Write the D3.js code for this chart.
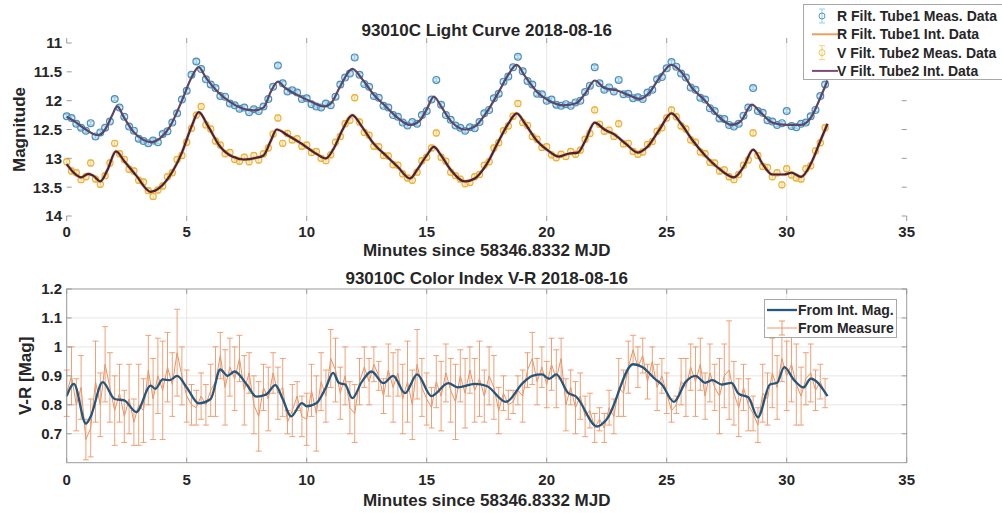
<!DOCTYPE html>
<html><head><meta charset="utf-8">
<script src="https://cdn.jsdelivr.net/npm/d3@7"></script>
<style>
body{margin:0;background:#fff}
text{font-family:"Liberation Sans",Arial,sans-serif;font-weight:bold;fill:#262626}
</style>
</head><body>
<svg id="c" width="1002" height="513"></svg>
<script>
// ---------- DATA ----------
const xTicks = [0,5,10,15,20,25,30,35];
const magTicks = [11,11.5,12,12.5,13,13.5,14];
const ciTicks = [0.7,0.8,0.9,1.0,1.1,1.2];

// Interpolated (smooth) light curves: key times and magnitudes
const rIntT = [0,0.4,0.8,1.3,1.6,1.9,2.1,2.4,2.8,3.2,3.5,3.9,4.3,4.8,5.2,5.5,5.8,6.3,6.8,7.3,7.8,8.2,8.5,8.8,9.1,9.6,10.2,10.7,11.0,11.4,11.9,12.3,12.8,13.3,13.8,14.3,14.7,15.0,15.3,15.6,16.0,16.6,17.0,17.5,18.0,18.4,18.75,19.1,19.6,20.1,20.7,21.2,21.6,22.0,22.4,22.9,23.4,23.9,24.3,24.7,25.2,25.6,26.1,26.6,27.1,27.7,28.1,28.55,28.9,29.4,30.0,30.6,31.0,31.4,31.7];
const rIntM = [12.28,12.38,12.5,12.6,12.5,12.25,12.1,12.3,12.55,12.68,12.72,12.65,12.45,12.0,11.6,11.42,11.6,11.85,12.02,12.13,12.17,12.12,11.85,11.67,11.78,11.9,12.02,12.1,12.05,11.75,11.45,11.62,11.9,12.1,12.3,12.42,12.35,12.15,11.93,12.1,12.35,12.5,12.45,12.2,11.85,11.55,11.38,11.58,11.85,12.0,12.08,12.05,11.88,11.65,11.78,11.82,11.9,11.97,11.85,11.6,11.38,11.5,11.8,12.0,12.25,12.42,12.35,12.07,12.2,12.38,12.42,12.42,12.3,11.95,11.65];

const vIntT = [0,0.3,0.6,0.9,1.1,1.4,1.7,2.05,2.4,2.9,3.5,3.9,4.3,4.8,5.2,5.5,5.9,6.4,6.9,7.4,7.9,8.2,8.5,8.75,9.2,9.8,10.4,10.8,11.1,11.5,11.9,12.3,12.8,13.3,13.8,14.3,14.6,15.0,15.3,15.6,16.0,16.6,17.0,17.5,18.0,18.4,18.75,19.1,19.6,20.1,20.5,20.9,21.3,21.6,22.0,22.4,22.8,23.3,23.8,24.2,24.7,25.2,25.6,26.1,26.6,27.1,27.8,28.2,28.6,29.0,29.4,29.9,30.2,30.6,31.0,31.4,31.7];
const vIntM = [13.1,13.25,13.33,13.27,13.3,13.4,13.2,12.88,13.05,13.3,13.58,13.5,13.3,12.9,12.45,12.2,12.45,12.8,12.97,13.02,12.99,12.95,12.7,12.5,12.6,12.75,12.92,13.0,12.85,12.5,12.25,12.45,12.75,12.95,13.15,13.35,13.2,12.95,12.8,12.95,13.2,13.4,13.35,13.1,12.7,12.4,12.22,12.4,12.7,12.88,12.97,12.92,12.9,12.7,12.38,12.5,12.58,12.75,12.9,12.8,12.5,12.22,12.4,12.7,12.95,13.15,13.33,13.15,12.85,13.1,13.28,13.28,13.25,13.32,13.1,12.7,12.4];

// Measured samples (every 0.2 min from 0 to 31.6)
const measStep = 0.2;
const rMeas = [12.27,12.30,12.40,12.47,12.52,12.39,12.62,12.55,12.47,12.36,11.97,12.12,12.28,12.45,12.52,12.66,12.70,12.74,12.69,12.72,
12.58,12.53,12.38,12.22,11.98,11.83,11.55,11.32,11.45,11.63,11.72,11.78,11.92,11.93,12.05,12.08,12.14,12.12,12.20,12.15,
12.18,12.10,11.97,11.76,11.39,11.70,11.84,11.82,11.86,11.97,11.96,12.06,12.10,12.12,12.05,12.08,11.93,11.72,11.60,11.53,
11.25,11.55,11.71,11.76,11.92,11.95,12.09,12.12,12.25,12.28,12.38,12.43,12.37,12.40,12.25,12.18,11.98,11.64,12.07,12.25,
12.33,12.43,12.47,12.52,12.46,12.48,12.37,12.22,12.16,11.96,11.88,11.67,11.58,11.42,11.24,11.49,11.66,11.72,11.88,11.89,
12.00,11.98,12.07,12.09,12.06,12.09,12.03,12.00,11.85,11.74,11.42,11.70,11.81,11.77,11.84,11.64,11.89,11.88,11.96,11.94,
11.97,11.86,11.81,11.63,11.59,11.44,11.33,11.41,11.53,11.60,11.77,11.81,11.95,11.98,12.13,12.18,12.31,12.32,12.42,12.45,
12.40,12.26,12.12,11.78,12.18,12.21,12.34,12.36,12.42,12.39,12.18,12.44,12.46,12.40,12.38,12.27,12.16,11.92,11.72];
const vMeas = [13.06,13.22,13.25,13.37,13.32,13.08,13.36,13.45,13.30,13.08,12.74,12.92,13.02,13.19,13.22,13.38,13.41,13.56,13.66,13.55,
13.48,13.32,13.25,13.02,12.95,12.72,12.48,12.25,12.10,12.42,12.49,12.70,12.77,12.92,12.90,13.02,13.05,12.98,13.06,12.95,
13.03,12.92,12.82,12.58,12.30,12.74,12.57,12.68,12.66,12.79,12.77,12.90,12.88,13.00,13.04,12.94,12.72,12.62,12.40,12.34,
11.95,12.37,12.55,12.60,12.79,12.80,12.95,12.96,13.11,13.12,13.27,13.34,13.38,13.24,13.04,12.98,12.82,12.56,12.98,13.05,
13.24,13.30,13.36,13.44,13.42,13.32,13.28,13.12,13.06,12.82,12.73,12.52,12.44,12.27,12.05,12.38,12.43,12.62,12.67,12.81,
12.80,12.94,12.99,12.93,12.97,12.88,12.93,12.86,12.67,12.57,12.16,12.41,12.53,12.51,12.62,12.40,12.75,12.74,12.88,12.93,
12.89,12.76,12.71,12.53,12.47,12.30,12.16,12.28,12.44,12.49,12.68,12.72,12.89,12.92,13.07,13.08,13.22,13.20,13.32,13.37,
13.28,13.12,13.03,12.56,12.95,13.14,13.16,13.32,13.25,13.46,13.18,13.29,13.34,13.36,13.18,13.13,12.87,12.73,12.47];
const rErr = 0.03;
const vErr = 0.05;

// Color index V-R
const ciIntT = [0,0.3,0.8,1.0,1.5,2.0,2.4,2.9,3.5,3.7,4.0,4.3,4.6,5.0,5.5,6.0,6.4,6.7,7.0,7.5,7.9,8.3,8.7,9.0,9.35,9.8,10.0,10.4,10.8,11.1,11.35,11.6,11.9,12.3,12.7,13.2,13.6,14.1,14.6,15.2,15.9,16.3,17.0,17.5,18.3,19.0,19.4,19.8,20.1,20.4,20.9,21.2,22.1,22.5,23.6,24.0,24.5,24.8,25.3,25.8,26.2,26.6,26.9,27.3,27.7,28.0,28.4,28.8,29.3,29.6,29.9,30.3,30.7,31.0,31.7];
const ciIntV = [0.83,0.872,0.735,0.76,0.878,0.82,0.815,0.775,0.866,0.855,0.888,0.885,0.9,0.86,0.805,0.82,0.922,0.9,0.915,0.87,0.828,0.835,0.868,0.82,0.76,0.806,0.795,0.805,0.86,0.91,0.875,0.87,0.823,0.88,0.915,0.875,0.9,0.84,0.905,0.83,0.875,0.86,0.872,0.865,0.81,0.875,0.9,0.905,0.89,0.905,0.84,0.83,0.725,0.75,0.94,0.93,0.89,0.87,0.81,0.88,0.9,0.876,0.885,0.87,0.876,0.838,0.826,0.757,0.87,0.876,0.93,0.886,0.86,0.89,0.83];
const ciMeas = [0.84,0.90,0.80,0.86,0.68,0.72,0.88,0.80,0.94,0.86,0.78,0.84,0.76,0.82,0.74,0.80,0.78,0.92,0.82,0.90,
0.85,0.93,0.87,0.98,0.90,0.83,0.80,0.79,0.83,0.80,0.85,0.88,0.97,0.86,0.93,0.89,0.96,0.85,0.91,0.80,
0.76,0.86,0.82,0.91,0.84,0.86,0.74,0.78,0.83,0.76,0.75,0.85,0.77,0.88,0.83,0.96,0.92,0.84,0.90,0.79,
0.77,0.88,0.93,0.88,0.94,0.90,0.83,0.92,0.86,0.91,0.82,0.88,0.80,0.94,0.86,0.82,0.79,0.88,0.83,0.91,
0.85,0.81,0.90,0.84,0.92,0.85,0.89,0.83,0.90,0.86,0.78,0.84,0.80,0.81,0.85,0.83,0.92,0.96,0.88,0.93,
0.87,0.94,0.89,0.96,0.80,0.86,0.79,0.83,0.76,0.78,0.72,0.75,0.72,0.79,0.76,0.86,0.84,0.93,0.99,0.93,
0.97,0.88,0.95,0.86,0.90,0.84,0.78,0.80,0.88,0.86,0.93,0.88,0.94,0.83,0.91,0.86,0.83,0.90,0.92,0.84,
0.79,0.86,0.80,0.77,0.73,0.84,0.82,0.91,0.86,0.96,0.90,0.94,0.87,0.83,0.89,0.91,0.85,0.88,0.84];
const ciErr = [0.08,0.10,0.09,0.11,0.07,0.10,0.14,0.11,0.13,0.12,0.12,0.10,0.09,0.12,0.08,0.14,0.11,0.12,0.14,0.13,
0.17,0.12,0.11,0.15,0.10,0.09,0.07,0.06,0.08,0.07,0.09,0.12,0.08,0.13,0.10,0.11,0.08,0.12,0.07,0.10,
0.12,0.08,0.11,0.07,0.09,0.10,0.04,0.09,0.05,0.07,0.09,0.09,0.13,0.10,0.09,0.10,0.11,0.09,0.10,0.09,
0.10,0.08,0.07,0.08,0.06,0.05,0.06,0.09,0.12,0.08,0.12,0.14,0.12,0.12,0.10,0.09,0.07,0.09,0.12,0.10,
0.11,0.13,0.09,0.12,0.08,0.11,0.13,0.09,0.10,0.11,0.08,0.06,0.05,0.04,0.05,0.09,0.06,0.09,0.08,0.07,
0.08,0.09,0.10,0.07,0.09,0.06,0.09,0.08,0.07,0.06,0.05,0.04,0.05,0.06,0.06,0.10,0.08,0.09,0.05,0.07,
0.06,0.06,0.05,0.08,0.06,0.07,0.04,0.03,0.08,0.10,0.08,0.12,0.09,0.08,0.10,0.08,0.13,0.11,0.17,0.11,
0.10,0.08,0.09,0.06,0.06,0.10,0.09,0.12,0.11,0.08,0.12,0.13,0.14,0.10,0.09,0.10,0.07,0.06,0.05];

// ---------- DRAW ----------
const svg = d3.select("#c");
const X0 = 66.7, X1 = 906.7;
const x = d3.scaleLinear().domain([0,35]).range([X0,X1]);
const yTop = d3.scaleLinear().domain([11,14]).range([43,216]);
const yBot = d3.scaleLinear().domain([0.6,1.2]).range([462.7,289]);
const fmt = d3.format("~g");
const tm = i => i*measStep;

function panel(y, yt, xlab, xlabY, tickY, title, titleY, ylab, ylabX) {
  const [b, t] = y.range();
  const g = svg.append("g");
  g.selectAll(null).data(xTicks.slice(1,-1)).join("line")
    .attr("x1", d=>x(d)).attr("x2", d=>x(d)).attr("y1", t).attr("y2", b)
    .attr("stroke", "#e6e6e6").attr("stroke-width", 1);
  g.selectAll(null).data(yt.filter(d=>y(d)>t+1 && y(d)<b-1)).join("line")
    .attr("x1", X0).attr("x2", X1).attr("y1", d=>y(d)).attr("y2", d=>y(d))
    .attr("stroke", "#e6e6e6").attr("stroke-width", 1);
  g.selectAll(null).data(xTicks).join("text")
    .attr("x", d=>x(d)).attr("y", tickY).attr("text-anchor","middle")
    .style("font-size","15px").text(d=>fmt(d));
  g.selectAll(null).data(yt).join("text")
    .attr("x", 62).attr("y", d=>y(d)).attr("dy","0.36em").attr("text-anchor","end")
    .style("font-size","15px").text(d=>fmt(d));
  g.append("text").attr("x",(X0+X1)/2).attr("y",xlabY).attr("text-anchor","middle")
    .style("font-size","17px").text(xlab);
  g.append("text").attr("x",(X0+X1)/2).attr("y",titleY).attr("text-anchor","middle")
    .style("font-size","17px").text(title);
  g.append("text").attr("transform",`translate(${ylabX},${(t+b)/2}) rotate(-90)`)
    .attr("text-anchor","middle").style("font-size","17px").text(ylab);
  return g;
}
function frame(y, yt) {
  const [b, t] = y.range();
  const g = svg.append("g");
  g.append("rect").attr("x",X0).attr("y",t).attr("width",X1-X0).attr("height",b-t)
    .attr("fill","none").attr("stroke","#9a9a9a").attr("stroke-width",1);
  g.selectAll(null).data(xTicks).join("path")
    .attr("d", d=>`M${x(d)},${b}v-5M${x(d)},${t}v5`).attr("stroke","#9a9a9a");
  g.selectAll(null).data(yt).join("path")
    .attr("d", d=>`M${X0},${y(d)}h5M${X1},${y(d)}h-5`).attr("stroke","#9a9a9a");
}

panel(yTop, magTicks, "Minutes since 58346.8332 MJD", 256, 236.5, "93010C Light Curve 2018-08-16", 36, "Magnitude", 25);
panel(yBot, ciTicks, "Minutes since 58346.8332 MJD", 505.5, 485, "93010C Color Index V-R 2018-08-16", 284, "V-R [Mag]", 31);

function errMarks(vals, err, y, col, fillCol, barCol, r, cap) {
  const g = svg.append("g");
  g.selectAll(null).data(vals).join("path")
    .attr("d", (d,i)=>{const xx=x(tm(i)), y1=y(d-err), y2=y(d+err);
      return `M${xx},${y1}V${y2}M${xx-cap},${y1}h${2*cap}M${xx-cap},${y2}h${2*cap}`;})
    .attr("stroke", barCol).attr("stroke-width",1).attr("fill","none");
  g.selectAll(null).data(vals).join("circle")
    .attr("cx",(d,i)=>x(tm(i))).attr("cy",d=>y(d)).attr("r",r)
    .attr("fill",fillCol).attr("stroke",col).attr("stroke-width",1.2);
}
errMarks(rMeas, rErr, yTop, "#4f8cb8", "rgba(150,205,235,0.35)", "#8fcdef", 3.4, 2.5);
errMarks(vMeas, vErr, yTop, "#eeb038", "rgba(250,220,140,0.3)", "#f6cf70", 3.1, 2.5);

const lineTop = (T,V) => d3.line().x((d,i)=>x(T[i])).y(d=>yTop(d)).curve(d3.curveMonotoneX)(V);
svg.append("path").attr("d", lineTop(vIntT, vIntM)).attr("fill","none")
  .attr("stroke","#e69a50").attr("stroke-width",3.6).attr("opacity",0.45);
svg.append("path").attr("d", lineTop(rIntT, rIntM)).attr("fill","none")
  .attr("stroke","#5a4666").attr("stroke-width",2.2);
svg.append("path").attr("d", lineTop(vIntT, vIntM)).attr("fill","none")
  .attr("stroke","#4a2236").attr("stroke-width",2.2);

const gb = svg.append("g");
gb.append("path").attr("d", d3.line().x((d,i)=>x(tm(i))).y(d=>yBot(d))(ciMeas))
  .attr("fill","none").attr("stroke","#ec9162").attr("stroke-width",1);
gb.selectAll(null).data(ciMeas).join("path")
  .attr("d",(d,i)=>{const xx=x(tm(i)), y1=yBot(d-ciErr[i]), y2=yBot(d+ciErr[i]);
    return `M${xx},${y1}V${y2}M${xx-3},${y1}h6M${xx-3},${y2}h6`;})
  .attr("stroke","#ee9868").attr("stroke-width",1).attr("fill","none").attr("opacity",0.9);
gb.append("path").attr("d", d3.line().x((d,i)=>x(ciIntT[i])).y(d=>yBot(d)).curve(d3.curveMonotoneX)(ciIntV))
  .attr("fill","none").attr("stroke","#22587f").attr("stroke-width",2.3);

frame(yTop, magTicks);
frame(yBot, ciTicks);

const lg = svg.append("g");
lg.append("rect").attr("x",803.5).attr("y",4.5).attr("width",205).attr("height",75)
  .attr("fill","#fff").attr("stroke","#a8a8a8");
const topLeg = [
  {t:"R Filt. Tube1 Meas. Data", type:"err", c:"#5a96c2", bc:"#8fcdef"},
  {t:"R Filt. Tube1 Int. Data", type:"line", c:"#e8a060"},
  {t:"V Filt. Tube2 Meas. Data", type:"err", c:"#f0c050", bc:"#f6d57a"},
  {t:"V Filt. Tube2 Int. Data", type:"line", c:"#7a4a7a"}];
topLeg.forEach((d,i)=>{
  const yy = 16 + i*18.3;
  if (d.type==="line") lg.append("line").attr("x1",812).attr("x2",838).attr("y1",yy).attr("y2",yy)
    .attr("stroke",d.c).attr("stroke-width",2);
  else {
    lg.append("path").attr("d",`M822,${yy-7}V${yy+7}M819,${yy-7}h6M819,${yy+7}h6`).attr("stroke",d.bc).attr("fill","none");
    lg.append("circle").attr("cx",822).attr("cy",yy).attr("r",3).attr("fill","none").attr("stroke",d.c);
  }
  lg.append("text").attr("x",837).attr("y",yy).attr("dy","0.36em").style("font-size","14px").text(d.t);
});
lg.append("rect").attr("x",764.5).attr("y",299.5).attr("width",132).attr("height",38)
  .attr("fill","#fff").attr("stroke","#a8a8a8");
lg.append("line").attr("x1",767).attr("x2",797).attr("y1",310).attr("y2",310).attr("stroke","#22587f").attr("stroke-width",2.3);
lg.append("path").attr("d","M767,328H797M782,321V335M779,321h6M779,335h6").attr("stroke","#ee9868").attr("fill","none");
lg.append("text").attr("x",798).attr("y",310).attr("dy","0.36em").style("font-size","14px").text("From Int. Mag.");
lg.append("text").attr("x",798).attr("y",328).attr("dy","0.36em").style("font-size","14px").text("From Measure");
</script>
</body></html>
